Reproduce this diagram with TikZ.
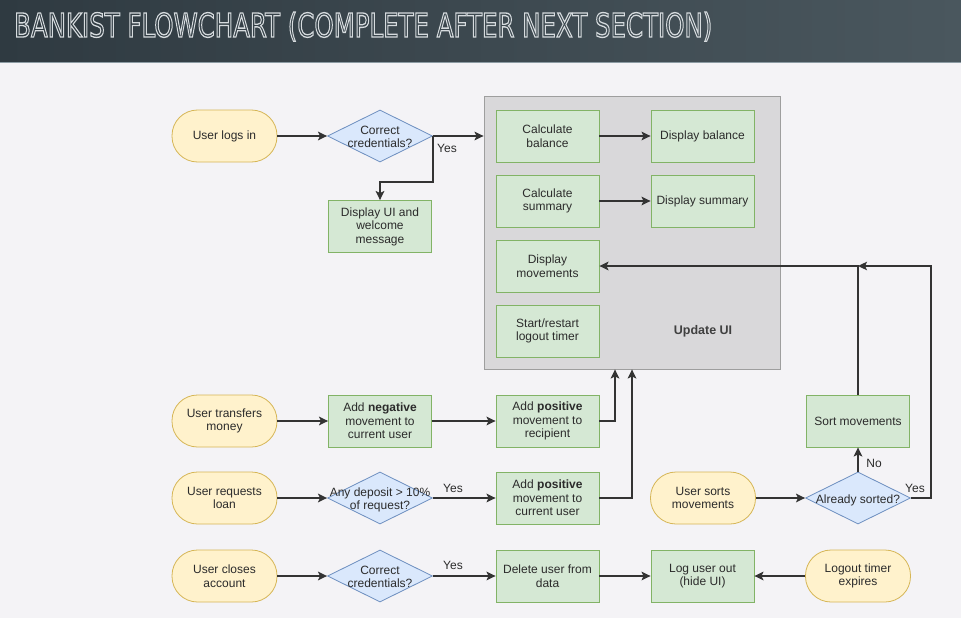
\documentclass[tikz,border=0pt]{standalone}
\usepackage{fontspec}
\setmainfont{Liberation Sans}
\newfontfamily\titlefont{DejaVu Sans}
\usetikzlibrary{arrows.meta,shapes.geometric}
\definecolor{bgc}{HTML}{F4F3F6}
\definecolor{hdl}{HTML}{2F3A41}
\definecolor{hdr}{HTML}{4A575E}
\definecolor{hline}{HTML}{8C9BA3}
\definecolor{termf}{HTML}{FFF2CC}
\definecolor{termb}{HTML}{D6B656}
\definecolor{procf}{HTML}{D5E8D4}
\definecolor{procb}{HTML}{82B366}
\definecolor{decf}{HTML}{DAE8FC}
\definecolor{decb}{HTML}{6C8EBF}
\definecolor{uif}{HTML}{D9D8DA}
\definecolor{uib}{HTML}{9E9E9E}
\definecolor{linec}{HTML}{333333}
\definecolor{txt}{HTML}{2B2B2B}
\newcommand\dtext[1]{\makebox[0pt]{\raisebox{\dimexpr 0.5\depth-0.5\height-2.5pt\relax}[0pt][0pt]{\begin{tabular}[b]{@{}c@{}}#1\end{tabular}}}}
\begin{document}
\begin{tikzpicture}[x=1pt,y=-1pt,
  base/.style={text=txt,font=\fontsize{12}{13.5}\selectfont,inner sep=0pt,align=center},
  term/.style={base,draw=termb,fill=termf,rounded corners=25.5pt,minimum width=105pt,minimum height=52pt,line width=0.8pt},
  proc/.style={base,draw=procb,fill=procf,minimum width=103pt,minimum height=52pt,line width=0.8pt},
  dec/.style={base,diamond,draw=decb,fill=decf,minimum width=105pt,minimum height=52pt,line width=0.8pt},
  uibox/.style={draw=uib,fill=uif,line width=0.8pt,minimum width=296pt,minimum height=273pt,inner sep=0pt},
  lbl/.style={text=txt,font=\fontsize{12}{13.5}\selectfont,inner sep=0pt},
  arr/.style={draw=linec,line width=1.8pt,-{Stealth[length=9pt,width=8.5pt,inset=2pt]}},
  ln/.style={draw=linec,line width=1.8pt}]
\useasboundingbox (0,0) rectangle (961,618);
\fill[bgc] (0,0) rectangle (961,618);
\shade[left color=hdl,right color=hdr] (0,0) rectangle (961,62);
\fill[hline] (0,62) rectangle (961,63.5);
\node[anchor=base west,inner sep=0pt] (title) at (14,37) {\resizebox{698pt}{25pt}{\titlefont\special{pdf:literal direct 1 Tr 0.4 w 0.84 0.86 0.87 RG}BANKIST FLOWCHART (COMPLETE AFTER NEXT SECTION)\special{pdf:literal direct 0 Tr}}};

% Update UI container
\node[uibox] (ui) at (632,232.5) {};
\node[lbl,font=\fontsize{12.5}{14}\selectfont\bfseries,text=black!75] (uilabel) at (703,331) {Update UI};

% row 1
\node[term] (login) at (224.5,136) {User logs in};
\node[dec] (cred1) at (380,136) {\dtext{Correct\\credentials?}};
\node[proc] (welcome) at (380,226.5) {Display UI and\\welcome\\message};
\node[proc] (calcbal) at (547.5,136) {Calculate\\balance};
\node[proc] (dispbal) at (702.5,136) {Display balance};
\node[proc] (calcsum) at (547.5,201) {Calculate\\summary};
\node[proc] (dispsum) at (702.5,201) {Display summary};
\node[proc] (dispmov) at (547.5,266) {Display\\movements};
\node[proc] (timer) at (547.5,331) {Start/restart\\logout timer};

% transfers
\node[term] (transfer) at (224.5,421) {User transfers\\money};
\node[proc] (neg) at (380,421) {Add \textbf{negative}\\movement to\\current user};
\node[proc] (posrec) at (547.5,421) {Add \textbf{positive}\\movement to\\recipient};

% loan
\node[term] (loan) at (224.5,498) {User requests\\loan};
\node[dec] (dep) at (380,498) {\dtext{Any deposit > 10\%\\of request?}};
\node[proc] (poscur) at (547.5,498) {Add \textbf{positive}\\movement to\\current user};

% sort
\node[term] (usort) at (703,498) {User sorts\\movements};
\node[dec] (sorted) at (858,498) {\dtext{Already sorted?}};
\node[proc] (sortmov) at (858,421) {Sort movements};

% close
\node[term] (close) at (224.5,576) {User closes\\account};
\node[dec] (cred2) at (380,576) {\dtext{Correct\\credentials?}};
\node[proc] (del) at (547.5,576) {Delete user from\\data};
\node[proc] (logout) at (702.5,576) {Log user out\\(hide UI)};
\node[term] (timerexp) at (858,576) {Logout timer\\expires};

\coordinate (m) at (sortmov.north |- dispmov.east);

% connectors
\draw[arr] (login) -- (cred1);
\draw[arr] (cred1.east) -- (ui.west |- cred1.east);
\draw[arr] (cred1.east) -- ++(0,46) -| (welcome.north);
\node[lbl] (yes1) at (447,148) {Yes};
\draw[arr] (calcbal) -- (dispbal);
\draw[arr] (calcsum) -- (dispsum);

\draw[arr] (transfer) -- (neg);
\draw[arr] (neg) -- (posrec);
\draw[arr] (posrec.east) -| ([xshift=-17pt]ui.south);

\draw[arr] (loan) -- (dep);
\draw[arr] (dep) -- (poscur);
\node[lbl] (yes2) at (453,488) {Yes};
\draw[arr] (poscur.east) -| (ui.south);

\draw[arr] (usort) -- (sorted);
\draw[arr] (sorted) -- (sortmov);
\node[lbl] (no1) at (874,463) {No};
\draw[arr] (sorted.east) -- ++(20,0) |- (m);
\node[lbl] (yes3) at (915,488) {Yes};
\draw[arr] (sortmov.north) -- (m) -- (dispmov.east);

\draw[arr] (close) -- (cred2);
\draw[arr] (cred2) -- (del);
\node[lbl] (yes4) at (453,565) {Yes};
\draw[arr] (del) -- (logout);
\draw[arr] (timerexp) -- (logout);
\end{tikzpicture}
\end{document}
